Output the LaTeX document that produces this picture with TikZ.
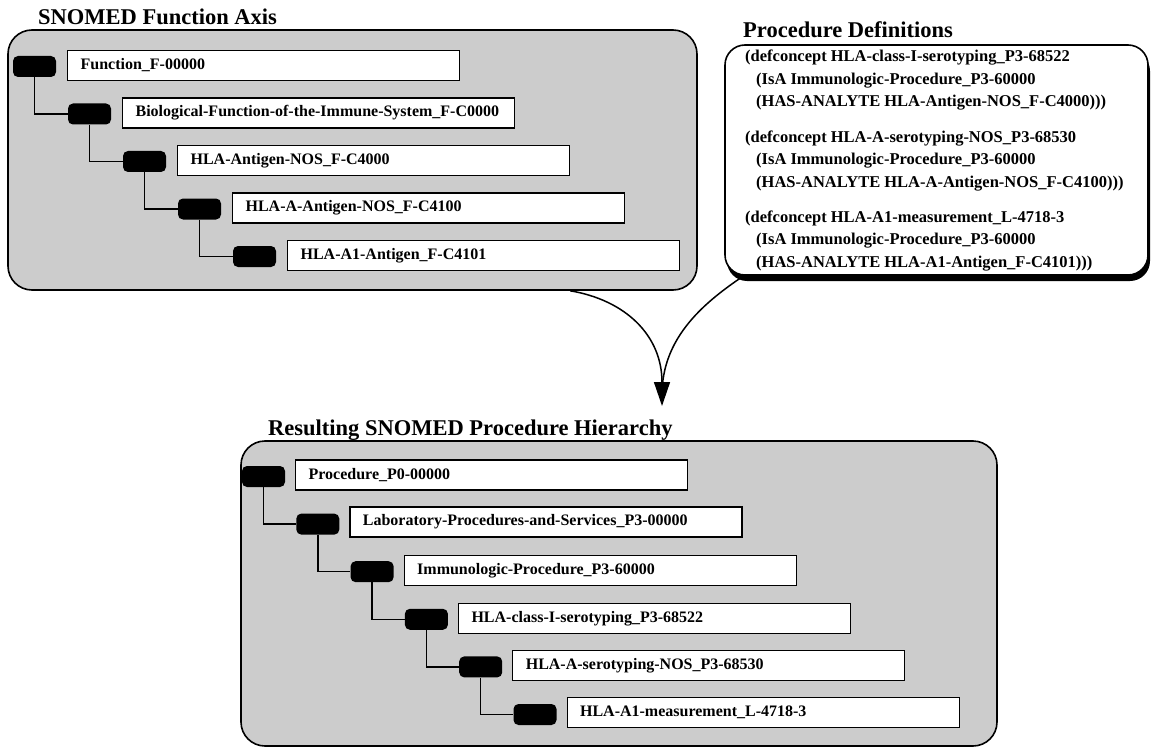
\documentclass[tikz,border=0pt]{standalone}
\usepackage{fontspec}
\setmainfont{Liberation Serif}
\usetikzlibrary{arrows.meta,shadows}

\begin{document}
\begin{tikzpicture}[x=1pt,y=-1pt]
\useasboundingbox (0,0) rectangle (1157,749);
\begin{scope}[every node/.style={draw,line width=1.6pt,rounded corners=24pt,inner sep=0pt}]
    \node[fill=black!20,minimum width=689pt,minimum height=260pt] (axis) at (352.5,160) {};
    \node[fill=white,minimum width=423pt,minimum height=230pt,rounded corners=20pt,
          drop shadow={shadow xshift=2pt,shadow yshift=-6pt,fill=black,opacity=1}] (defs) at (936.5,160) {};
    \node[fill=black!20,minimum width=756pt,minimum height=305pt] (hier) at (619,593.5) {};
\end{scope}
\begin{scope}[every node/.style={anchor=base west,inner sep=0pt,font=\bfseries\fontsize{22.5}{27}\selectfont}]
    \node (axistitle) at (38,25) {SNOMED Function Axis};
    \node (defstitle) at (743,38) {Procedure Definitions};
    \node (hiertitle) at (268,435) {Resulting SNOMED Procedure Hierarchy};
\end{scope}
\node[anchor=north west,inner sep=0pt,align=left,font=\bfseries\fontsize{16.5}{22.5}\selectfont] (defstext) at (745,50)
    {(defconcept HLA-class-I-serotyping\_P3-68522\\
     \hspace*{11pt}(IsA Immunologic-Procedure\_P3-60000\\
     \hspace*{11pt}(HAS-ANALYTE HLA-Antigen-NOS\_F-C4000)))\\[12.75pt]
     (defconcept HLA-A-serotyping-NOS\_P3-68530\\
     \hspace*{11pt}(IsA Immunologic-Procedure\_P3-60000\\
     \hspace*{11pt}(HAS-ANALYTE HLA-A-Antigen-NOS\_F-C4100)))\\[12.75pt]
     (defconcept HLA-A1-measurement\_L-4718-3\\
     \hspace*{11pt}(IsA Immunologic-Procedure\_P3-60000\\
     \hspace*{11pt}(HAS-ANALYTE HLA-A1-Antigen\_F-C4101)))};
% tags
\begin{scope}[every node/.style={fill=black,rounded corners=5pt,minimum width=43pt,minimum height=21pt,inner sep=0pt}]
    \node (ta1) at (34.5,66.5) {};
    \node (ta2) at (89.5,114) {};
    \node (ta3) at (144.5,161.5) {};
    \node (ta4) at (199.5,209) {};
    \node (ta5) at (254.5,256.5) {};
    \node (tp1) at (263.5,476.5) {};
    \node (tp2) at (317.8,524.1) {};
    \node (tp3) at (372.1,571.7) {};
    \node (tp4) at (426.4,619.3) {};
    \node (tp5) at (480.7,666.9) {};
    \node (tp6) at (535,714.5) {};
\end{scope}
% concept boxes
\begin{scope}[every node/.style={draw,fill=white,line width=1.2pt,anchor=west,text width=366pt,align=left,
              inner xsep=13pt,inner ysep=0pt,minimum height=30pt,font=\bfseries\fontsize{16}{19}\selectfont}]
    \node (a1) at (67,65.5) {Function\_F-00000};
    \node (a2) at (122,113) {Biological-Function-of-the-Immune-System\_F-C0000};
    \node (a3) at (177,160.5) {HLA-Antigen-NOS\_F-C4000};
    \node (a4) at (232,208) {HLA-A-Antigen-NOS\_F-C4100};
    \node (a5) at (287,255.5) {HLA-A1-Antigen\_F-C4101};
    \node (p1) at (295,475) {Procedure\_P0-00000};
    \node (p2) at (349.3,522) {Laboratory-Procedures-and-Services\_P3-00000};
    \node (p3) at (403.6,570.5) {Immunologic-Procedure\_P3-60000};
    \node (p4) at (457.9,618.5) {HLA-class-I-serotyping\_P3-68522};
    \node (p5) at (512.2,665.5) {HLA-A-serotyping-NOS\_P3-68530};
    \node (p6) at (566.5,712.5) {HLA-A1-measurement\_L-4718-3};
\end{scope}
\begin{scope}[line width=1.5pt]
    \draw (ta1) |- (ta2);
    \draw (ta2) |- (ta3);
    \draw (ta3) |- (ta4);
    \draw (ta4) |- (ta5);
    \draw (tp1) |- (tp2);
    \draw (tp2) |- (tp3);
    \draw (tp3) |- (tp4);
    \draw (tp4) |- (tp5);
    \draw (tp5) |- (tp6);
\end{scope}
% merge arrow
\coordinate (tip) at (662,406);
\draw[line width=1.5pt] (defs.-149) .. controls (700,305) and (662,340) .. (662,395);
\draw[line width=1.5pt,-{Triangle[length=24pt,width=16pt]}] (axis.-31) .. controls (625,300) and (662,335) .. (tip);
\end{tikzpicture}
\end{document}
